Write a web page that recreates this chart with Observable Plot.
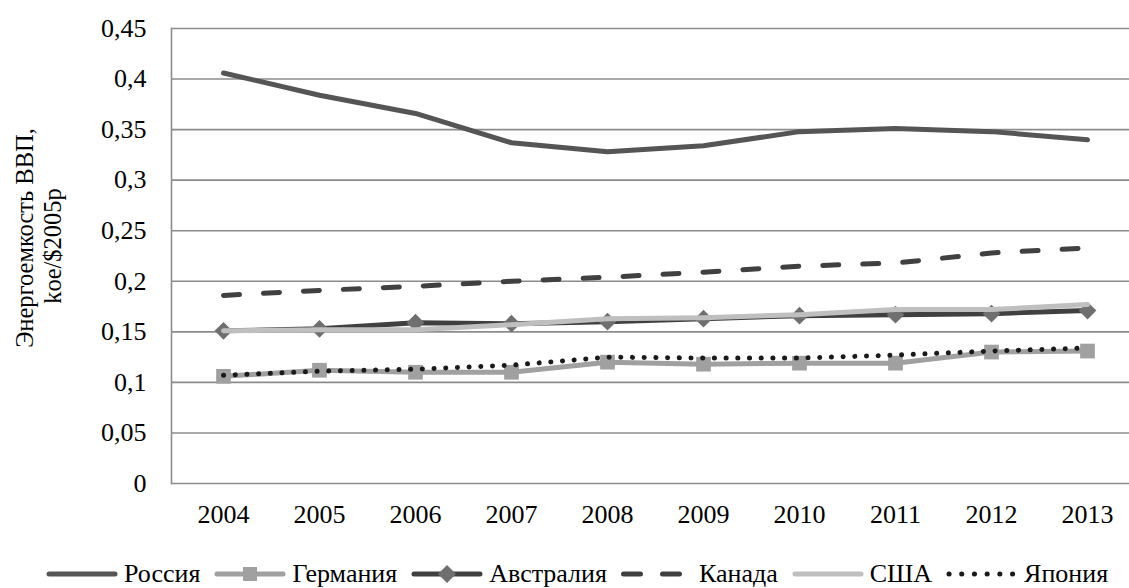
<!DOCTYPE html>
<html><head><meta charset="utf-8">
<script src="https://cdn.jsdelivr.net/npm/d3@7"></script>
<script src="https://cdn.jsdelivr.net/npm/@observablehq/plot@0.6"></script>
<style>
body{margin:0;background:#fff;font-family:'Liberation Serif','Times New Roman',serif;}
#wrap{position:relative;width:1129px;height:588px;overflow:hidden;background:#fff;}
#legend{position:absolute;left:46px;top:556px;height:36px;display:flex;align-items:center;font-size:26px;color:#000;white-space:nowrap;font-family:'Liberation Serif',serif;}
.item{display:flex;align-items:center;margin-right:14px;}
.item svg{margin-right:6px;display:block;}
</style></head><body>
<div id="wrap"><div id="chart"></div><div id="legend"></div></div>
<script>
const years = ["2004","2005","2006","2007","2008","2009","2010","2011","2012","2013"];
const russia    = [0.406,0.384,0.366,0.337,0.328,0.334,0.348,0.351,0.348,0.340];
const germany   = [0.106,0.112,0.110,0.110,0.120,0.118,0.119,0.119,0.130,0.131];
const australia = [0.151,0.153,0.159,0.158,0.160,0.163,0.166,0.167,0.168,0.171];
const canada    = [0.186,0.191,0.195,0.200,0.204,0.209,0.215,0.218,0.228,0.233];
const usa       = [0.151,0.152,0.152,0.157,0.163,0.164,0.167,0.172,0.172,0.177];
const japan     = [0.107,0.111,0.113,0.117,0.125,0.124,0.124,0.127,0.131,0.134];
const seriesNames = ["Россия","Германия","Австралия","Канада","США","Япония"];
const yTicks = [0,0.05,0.1,0.15,0.2,0.25,0.3,0.35,0.4,0.45];
const yLabel = ["Энергоемкость ВВП,","koe/$2005р"];

const FONT = "'Liberation Serif', 'Times New Roman', serif";
const toRows = (vals) => years.map((y,i)=>({year:y, value:vals[i]}));
const fmt = d => String(+d.toFixed(2)).replace(".", ",");

const chart = Plot.plot({
  width: 1129,
  height: 548,
  marginLeft: 171,
  marginRight: 0,
  marginTop: 28,
  marginBottom: 65,
  style: {fontFamily: FONT, fontSize: "26px", color: "#000", background: "#fff"},
  x: {type: "point", domain: years, range: [220, 1089], padding: 0},
  y: {domain: [0, 0.45]},
  marks: [
    Plot.ruleY(yTicks, {stroke: "#8c8c8c", strokeWidth: 1.6}),
    Plot.frame({anchor: "left", stroke: "#8c8c8c", strokeWidth: 1.6}),
    Plot.axisY({ticks: yTicks, tickSize: 0, tickPadding: 25, tickFormat: fmt, label: null}),
    Plot.axisX({tickSize: 0, tickPadding: 21, label: null}),
    Plot.line(toRows(russia), {x: "year", y: "value", stroke: "#555555", strokeWidth: 5, strokeLinecap: "round"}),
    Plot.line(toRows(germany), {x: "year", y: "value", stroke: "#a0a0a0", strokeWidth: 5}),
    Plot.dot(toRows(germany), {x: "year", y: "value", symbol: "square", r: 8.3, fill: "#a0a0a0", stroke: "none"}),
    Plot.line(toRows(australia), {x: "year", y: "value", stroke: "#404040", strokeWidth: 5}),
    Plot.dot(toRows(australia), {x: "year", y: "value", symbol: "diamond2", r: 8, fill: "#6f6f6f", stroke: "none"}),
    Plot.line(toRows(canada), {x: "year", y: "value", stroke: "#404040", strokeWidth: 5, strokeDasharray: "16,24", strokeLinecap: "round"}),
    Plot.line(toRows(usa), {x: "year", y: "value", stroke: "#bfbfbf", strokeWidth: 5}),
    Plot.line(toRows(japan), {x: "year", y: "value", stroke: "#1a1a1a", strokeWidth: 5, strokeDasharray: "0.1,11.6", strokeLinecap: "round"})
  ]
});
document.getElementById("chart").appendChild(chart);

const svg = d3.select(chart);
svg.attr("font-family", FONT);
svg.selectAll("text").attr("font-family", FONT).attr("fill", "#000");

// y-axis title (two lines, rotated)
const t = svg.append("text")
  .attr("transform", "translate(33,240) rotate(-90)")
  .attr("text-anchor", "middle")
  .attr("font-family", FONT)
  .attr("font-size", 24.5)
  .attr("fill", "#000");
t.append("tspan").attr("x", 2).attr("y", 0).text(yLabel[0]);
t.append("tspan").attr("x", -6).attr("y", 28).text(yLabel[1]);

// legend
const legendStyles = [
  {stroke:"#555555"},
  {stroke:"#a0a0a0", marker:"square", mfill:"#a0a0a0"},
  {stroke:"#404040", marker:"diamond", mfill:"#6f6f6f"},
  {stroke:"#404040", dash:"17,22", x1:2.5, x2:58.5},
  {stroke:"#bfbfbf"},
  {stroke:"#1a1a1a", dash:"0.1,12.6", x1:3, x2:67}
];
const legend = d3.select("#legend");
seriesNames.forEach((name, i) => {
  const s = legendStyles[i];
  const item = legend.append("div").attr("class", "item");
  const sw = item.append("svg").attr("width", 72).attr("height", 22);
  sw.append("line").attr("x1", s.x1 ?? 3).attr("x2", s.x2 ?? 69).attr("y1", 11).attr("y2", 11)
    .attr("stroke", s.stroke).attr("stroke-width", 5).attr("stroke-linecap", "round")
    .attr("stroke-dasharray", s.dash || null);
  if (s.marker === "square") sw.append("rect").attr("x", 29).attr("y", 4).attr("width", 14).attr("height", 14).attr("fill", s.mfill);
  if (s.marker === "diamond") sw.append("path").attr("d", "M36,2L45,11L36,20L27,11Z").attr("fill", s.mfill);
  item.append("span").text(name);
});
</script>
</body></html>
